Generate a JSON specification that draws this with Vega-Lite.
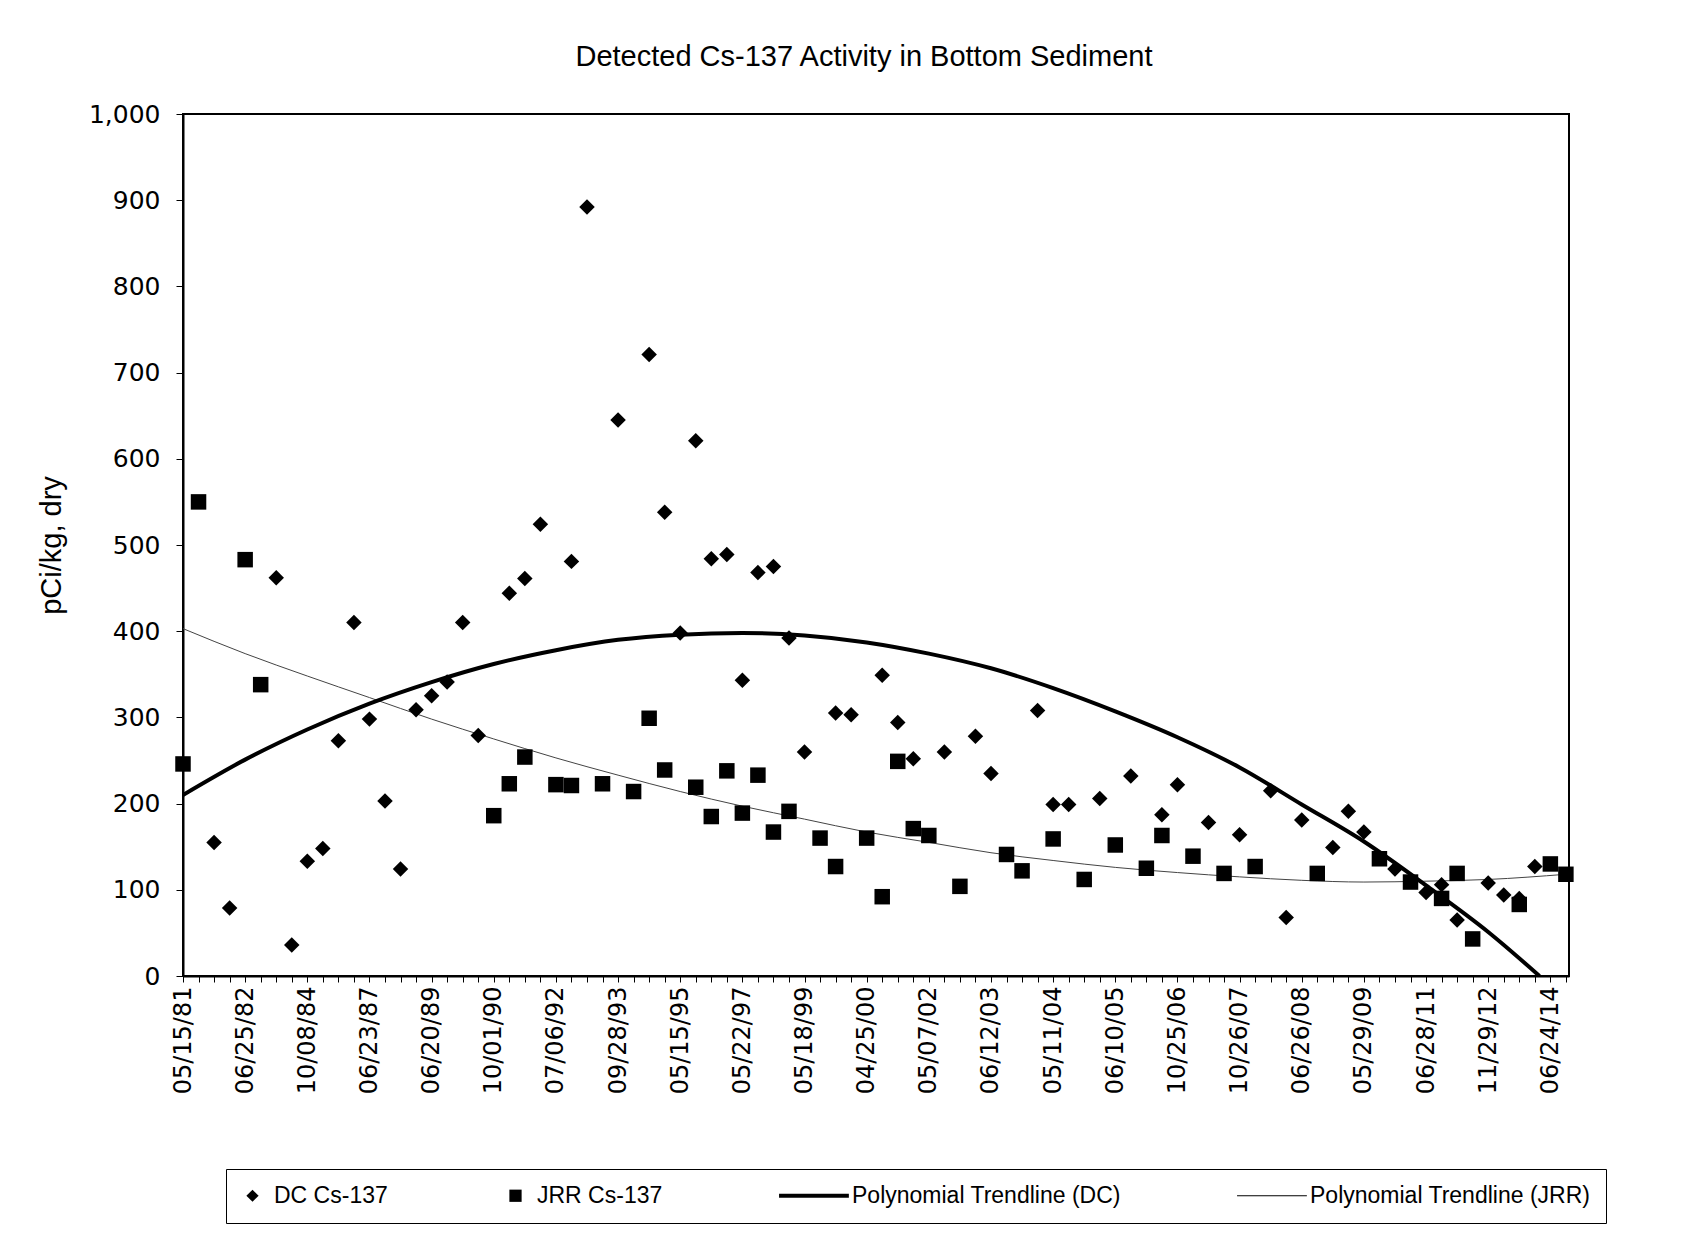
{
  "$schema": "https://vega.github.io/schema/vega-lite/v6.json",
  "autosize": "none",
  "width": 1386,
  "height": 862,
  "padding": {"left": 183, "top": 114, "right": 128, "bottom": 262},
  "background": "white",
  "title": {
    "text": "Detected Cs-137 Activity in Bottom Sediment",
    "font": "Liberation Sans",
    "fontSize": 29,
    "fontWeight": "normal",
    "color": "black",
    "anchor": "middle",
    "offset": 30,
    "dx": -12
  },
  "config": {
    "view": {"stroke": "black", "strokeWidth": 2},
    "axis": {"domainColor": "black", "domainWidth": 2, "tickColor": "black", "labelColor": "black", "titleColor": "black", "grid": false}
  },
  "datasets": {
    "points": [
      {"i": 2, "series": "DC Cs-137", "value": 155},
      {"i": 3, "series": "DC Cs-137", "value": 79},
      {"i": 6, "series": "DC Cs-137", "value": 462},
      {"i": 7, "series": "DC Cs-137", "value": 36},
      {"i": 8, "series": "DC Cs-137", "value": 133},
      {"i": 9, "series": "DC Cs-137", "value": 148},
      {"i": 10, "series": "DC Cs-137", "value": 273},
      {"i": 11, "series": "DC Cs-137", "value": 410},
      {"i": 12, "series": "DC Cs-137", "value": 298},
      {"i": 13, "series": "DC Cs-137", "value": 203},
      {"i": 14, "series": "DC Cs-137", "value": 124},
      {"i": 15, "series": "DC Cs-137", "value": 309},
      {"i": 16, "series": "DC Cs-137", "value": 325},
      {"i": 17, "series": "DC Cs-137", "value": 341},
      {"i": 18, "series": "DC Cs-137", "value": 410},
      {"i": 19, "series": "DC Cs-137", "value": 279},
      {"i": 21, "series": "DC Cs-137", "value": 444},
      {"i": 22, "series": "DC Cs-137", "value": 461},
      {"i": 23, "series": "DC Cs-137", "value": 524},
      {"i": 25, "series": "DC Cs-137", "value": 481},
      {"i": 26, "series": "DC Cs-137", "value": 892},
      {"i": 28, "series": "DC Cs-137", "value": 645},
      {"i": 30, "series": "DC Cs-137", "value": 721},
      {"i": 31, "series": "DC Cs-137", "value": 538},
      {"i": 32, "series": "DC Cs-137", "value": 398},
      {"i": 33, "series": "DC Cs-137", "value": 621},
      {"i": 34, "series": "DC Cs-137", "value": 484},
      {"i": 35, "series": "DC Cs-137", "value": 489},
      {"i": 36, "series": "DC Cs-137", "value": 343},
      {"i": 37, "series": "DC Cs-137", "value": 468},
      {"i": 38, "series": "DC Cs-137", "value": 475},
      {"i": 39, "series": "DC Cs-137", "value": 392},
      {"i": 40, "series": "DC Cs-137", "value": 260},
      {"i": 42, "series": "DC Cs-137", "value": 305},
      {"i": 43, "series": "DC Cs-137", "value": 303},
      {"i": 45, "series": "DC Cs-137", "value": 349},
      {"i": 46, "series": "DC Cs-137", "value": 294},
      {"i": 47, "series": "DC Cs-137", "value": 252},
      {"i": 49, "series": "DC Cs-137", "value": 260},
      {"i": 51, "series": "DC Cs-137", "value": 278},
      {"i": 52, "series": "DC Cs-137", "value": 235},
      {"i": 55, "series": "DC Cs-137", "value": 308},
      {"i": 56, "series": "DC Cs-137", "value": 199},
      {"i": 57, "series": "DC Cs-137", "value": 199},
      {"i": 59, "series": "DC Cs-137", "value": 206},
      {"i": 61, "series": "DC Cs-137", "value": 232},
      {"i": 63, "series": "DC Cs-137", "value": 187},
      {"i": 64, "series": "DC Cs-137", "value": 222},
      {"i": 66, "series": "DC Cs-137", "value": 178},
      {"i": 68, "series": "DC Cs-137", "value": 164},
      {"i": 70, "series": "DC Cs-137", "value": 215},
      {"i": 71, "series": "DC Cs-137", "value": 68},
      {"i": 72, "series": "DC Cs-137", "value": 181},
      {"i": 74, "series": "DC Cs-137", "value": 149},
      {"i": 75, "series": "DC Cs-137", "value": 191},
      {"i": 76, "series": "DC Cs-137", "value": 167},
      {"i": 78, "series": "DC Cs-137", "value": 124},
      {"i": 80, "series": "DC Cs-137", "value": 97},
      {"i": 81, "series": "DC Cs-137", "value": 106},
      {"i": 82, "series": "DC Cs-137", "value": 65},
      {"i": 84, "series": "DC Cs-137", "value": 108},
      {"i": 85, "series": "DC Cs-137", "value": 94},
      {"i": 86, "series": "DC Cs-137", "value": 90},
      {"i": 87, "series": "DC Cs-137", "value": 127},
      {"i": 0, "series": "JRR Cs-137", "value": 246},
      {"i": 1, "series": "JRR Cs-137", "value": 550},
      {"i": 4, "series": "JRR Cs-137", "value": 483},
      {"i": 5, "series": "JRR Cs-137", "value": 338},
      {"i": 20, "series": "JRR Cs-137", "value": 186},
      {"i": 21, "series": "JRR Cs-137", "value": 223},
      {"i": 22, "series": "JRR Cs-137", "value": 254},
      {"i": 24, "series": "JRR Cs-137", "value": 222},
      {"i": 25, "series": "JRR Cs-137", "value": 221},
      {"i": 27, "series": "JRR Cs-137", "value": 223},
      {"i": 29, "series": "JRR Cs-137", "value": 214},
      {"i": 30, "series": "JRR Cs-137", "value": 299},
      {"i": 31, "series": "JRR Cs-137", "value": 239},
      {"i": 33, "series": "JRR Cs-137", "value": 219},
      {"i": 34, "series": "JRR Cs-137", "value": 185},
      {"i": 35, "series": "JRR Cs-137", "value": 238},
      {"i": 36, "series": "JRR Cs-137", "value": 189},
      {"i": 37, "series": "JRR Cs-137", "value": 233},
      {"i": 38, "series": "JRR Cs-137", "value": 167},
      {"i": 39, "series": "JRR Cs-137", "value": 191},
      {"i": 41, "series": "JRR Cs-137", "value": 160},
      {"i": 42, "series": "JRR Cs-137", "value": 127},
      {"i": 44, "series": "JRR Cs-137", "value": 160},
      {"i": 45, "series": "JRR Cs-137", "value": 92},
      {"i": 46, "series": "JRR Cs-137", "value": 249},
      {"i": 47, "series": "JRR Cs-137", "value": 171},
      {"i": 48, "series": "JRR Cs-137", "value": 163},
      {"i": 50, "series": "JRR Cs-137", "value": 104},
      {"i": 53, "series": "JRR Cs-137", "value": 141},
      {"i": 54, "series": "JRR Cs-137", "value": 122},
      {"i": 56, "series": "JRR Cs-137", "value": 159},
      {"i": 58, "series": "JRR Cs-137", "value": 112},
      {"i": 60, "series": "JRR Cs-137", "value": 152},
      {"i": 62, "series": "JRR Cs-137", "value": 125},
      {"i": 63, "series": "JRR Cs-137", "value": 163},
      {"i": 65, "series": "JRR Cs-137", "value": 139},
      {"i": 67, "series": "JRR Cs-137", "value": 119},
      {"i": 69, "series": "JRR Cs-137", "value": 127},
      {"i": 73, "series": "JRR Cs-137", "value": 119},
      {"i": 77, "series": "JRR Cs-137", "value": 136},
      {"i": 79, "series": "JRR Cs-137", "value": 109},
      {"i": 81, "series": "JRR Cs-137", "value": 90},
      {"i": 82, "series": "JRR Cs-137", "value": 119},
      {"i": 83, "series": "JRR Cs-137", "value": 43},
      {"i": 86, "series": "JRR Cs-137", "value": 83},
      {"i": 88, "series": "JRR Cs-137", "value": 130},
      {"i": 89, "series": "JRR Cs-137", "value": 118}
    ],
    "trends": [
      {"i": 0, "series": "Polynomial Trendline (DC)", "value": 210},
      {"i": 4, "series": "Polynomial Trendline (DC)", "value": 251},
      {"i": 8, "series": "Polynomial Trendline (DC)", "value": 286},
      {"i": 12, "series": "Polynomial Trendline (DC)", "value": 316},
      {"i": 16, "series": "Polynomial Trendline (DC)", "value": 341},
      {"i": 20, "series": "Polynomial Trendline (DC)", "value": 362},
      {"i": 24, "series": "Polynomial Trendline (DC)", "value": 378},
      {"i": 28, "series": "Polynomial Trendline (DC)", "value": 390},
      {"i": 32, "series": "Polynomial Trendline (DC)", "value": 396},
      {"i": 36, "series": "Polynomial Trendline (DC)", "value": 398},
      {"i": 40, "series": "Polynomial Trendline (DC)", "value": 395},
      {"i": 44, "series": "Polynomial Trendline (DC)", "value": 387},
      {"i": 48, "series": "Polynomial Trendline (DC)", "value": 374},
      {"i": 52, "series": "Polynomial Trendline (DC)", "value": 357},
      {"i": 56, "series": "Polynomial Trendline (DC)", "value": 334},
      {"i": 60, "series": "Polynomial Trendline (DC)", "value": 307},
      {"i": 64, "series": "Polynomial Trendline (DC)", "value": 277},
      {"i": 68, "series": "Polynomial Trendline (DC)", "value": 242},
      {"i": 72, "series": "Polynomial Trendline (DC)", "value": 199},
      {"i": 76, "series": "Polynomial Trendline (DC)", "value": 156},
      {"i": 80, "series": "Polynomial Trendline (DC)", "value": 105},
      {"i": 84, "series": "Polynomial Trendline (DC)", "value": 51},
      {"i": 87.3, "series": "Polynomial Trendline (DC)", "value": 0},
      {"i": 0, "series": "Polynomial Trendline (JRR)", "value": 403},
      {"i": 4, "series": "Polynomial Trendline (JRR)", "value": 374},
      {"i": 8, "series": "Polynomial Trendline (JRR)", "value": 348},
      {"i": 12, "series": "Polynomial Trendline (JRR)", "value": 323},
      {"i": 16, "series": "Polynomial Trendline (JRR)", "value": 298},
      {"i": 20, "series": "Polynomial Trendline (JRR)", "value": 275},
      {"i": 24, "series": "Polynomial Trendline (JRR)", "value": 253},
      {"i": 28, "series": "Polynomial Trendline (JRR)", "value": 233},
      {"i": 32, "series": "Polynomial Trendline (JRR)", "value": 214},
      {"i": 36, "series": "Polynomial Trendline (JRR)", "value": 197},
      {"i": 40, "series": "Polynomial Trendline (JRR)", "value": 182},
      {"i": 44, "series": "Polynomial Trendline (JRR)", "value": 167},
      {"i": 48, "series": "Polynomial Trendline (JRR)", "value": 155},
      {"i": 52, "series": "Polynomial Trendline (JRR)", "value": 143},
      {"i": 56, "series": "Polynomial Trendline (JRR)", "value": 134},
      {"i": 60, "series": "Polynomial Trendline (JRR)", "value": 126},
      {"i": 64, "series": "Polynomial Trendline (JRR)", "value": 120},
      {"i": 68, "series": "Polynomial Trendline (JRR)", "value": 115},
      {"i": 72, "series": "Polynomial Trendline (JRR)", "value": 111},
      {"i": 76, "series": "Polynomial Trendline (JRR)", "value": 109},
      {"i": 80, "series": "Polynomial Trendline (JRR)", "value": 110},
      {"i": 84, "series": "Polynomial Trendline (JRR)", "value": 112},
      {"i": 89, "series": "Polynomial Trendline (JRR)", "value": 118}
    ]
  },
  "encoding": {
    "x": {
      "field": "i",
      "type": "quantitative",
      "scale": {"domain": [0, 89.2], "nice": false, "zero": false},
      "axis": {
        "title": null,
        "values": [0,1,2,3,4,5,6,7,8,9,10,11,12,13,14,15,16,17,18,19,20,21,22,23,24,25,26,27,28,29,30,31,32,33,34,35,36,37,38,39,40,41,42,43,44,45,46,47,48,49,50,51,52,53,54,55,56,57,58,59,60,61,62,63,64,65,66,67,68,69,70,71,72,73,74,75,76,77,78,79,80,81,82,83,84,85,86,87,88,89],
        "labelExpr": "datum.value % 4 === 0 ? ['05/15/81','06/25/82','10/08/84','06/23/87','06/20/89','10/01/90','07/06/92','09/28/93','05/15/95','05/22/97','05/18/99','04/25/00','05/07/02','06/12/03','05/11/04','06/10/05','10/25/06','10/26/07','06/26/08','05/29/09','06/28/11','11/29/12','06/24/14'][datum.value / 4] : ''",
        "labelAngle": 270,
        "labelFont": "DejaVu Sans",
        "labelFontSize": 24,
        "labelPadding": 4,
        "labelOverlap": false,
        "labelBound": false,
        "labelFlush": false,
        "tickSize": 6,
        "tickWidth": 1
      }
    },
    "y": {
      "field": "value",
      "type": "quantitative",
      "scale": {"domain": [0, 1000], "nice": false},
      "axis": {
        "title": "pCi/kg, dry",
        "titleFont": "Liberation Sans",
        "titleFontSize": 29,
        "titleFontWeight": "normal",
        "titlePadding": 22,
        "values": [0,100,200,300,400,500,600,700,800,900,1000],
        "format": ",d",
        "labelFont": "DejaVu Sans",
        "labelFontSize": 25,
        "labelPadding": 16,
        "tickSize": 7,
        "tickWidth": 1
      }
    }
  },
  "layer": [
    {
      "data": {"name": "trends"},
      "transform": [{"filter": "datum.series === 'Polynomial Trendline (JRR)'"}],
      "mark": {"type": "line", "color": "#444444", "strokeWidth": 1, "interpolate": "monotone", "clip": true}
    },
    {
      "data": {"name": "trends"},
      "transform": [{"filter": "datum.series === 'Polynomial Trendline (DC)'"}],
      "mark": {"type": "line", "color": "black", "strokeWidth": 4, "interpolate": "monotone", "clip": true}
    },
    {
      "data": {"name": "points"},
      "mark": {"type": "point", "filled": true, "color": "black", "opacity": 1, "size": 240},
      "encoding": {
        "shape": {
          "field": "series",
          "type": "nominal",
          "scale": {
            "domain": ["DC Cs-137", "JRR Cs-137", "Polynomial Trendline (DC)", "Polynomial Trendline (JRR)"],
            "range": ["diamond", "square", "M-8.4,-0.33H3V0.33H-8.4Z", "M-8.4,-0.09H3V0.09H-8.4Z"]
          },
          "legend": {
            "title": null,
            "orient": "none",
            "legendX": 43,
            "legendY": 1055,
            "direction": "horizontal",
            "columns": 4,
            "columnPadding": 116,
            "padding": 15,
            "strokeColor": "black",
            "fillColor": "white",
            "labelFont": "Liberation Sans",
            "labelFontSize": 23,
            "labelColor": "black",
            "labelOffset": 10,
            "labelLimit": 500,
            "symbolSize": 150,
            "symbolFillColor": "black",
            "symbolStrokeWidth": 0,
            "gridAlign": "each",
            "encode": {
              "symbols": {
                "update": {
                  "fill": {"signal": "datum.value === 'Polynomial Trendline (JRR)' ? '#555555' : 'black'"},
                  "opacity": {"value": 1}
                }
              }
            }
          }
        }
      }
    }
  ]
}
